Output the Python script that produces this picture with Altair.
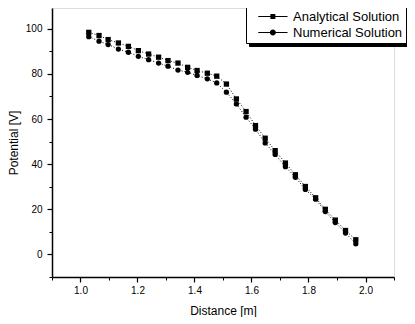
import altair as alt
import pandas as pd

# ---- data ----
distance = [1.029, 1.065, 1.097, 1.133, 1.168, 1.203, 1.239, 1.274, 1.307, 1.342,
            1.376, 1.409, 1.445, 1.478, 1.512, 1.547, 1.581, 1.614, 1.648, 1.683,
            1.719, 1.754, 1.789, 1.825, 1.859, 1.894, 1.930, 1.966]
analytical = [98.4, 97.0, 95.2, 93.7, 92.2, 90.3, 88.8, 87.4, 85.9, 84.8,
              82.9, 81.5, 80.3, 79.0, 75.5, 68.9, 63.3, 57.1, 51.5, 46.0,
              40.5, 35.3, 30.1, 25.1, 20.0, 15.2, 10.6, 6.5]
numerical = [96.5, 94.5, 93.0, 91.0, 89.6, 87.8, 86.3, 84.8, 83.4, 81.7,
             80.7, 79.3, 77.8, 76.0, 71.9, 66.7, 60.8, 55.5, 49.4, 44.3,
             38.9, 34.2, 28.8, 24.5, 19.0, 14.1, 9.5, 4.7]
series_names = ["Analytical Solution", "Numerical Solution"]
x_major = [1.0, 1.2, 1.4, 1.6, 1.8, 2.0]
x_minor = [0.9, 1.1, 1.3, 1.5, 1.7, 1.9, 2.1]
y_major = [0, 20, 40, 60, 80, 100]
y_minor = [-10, 10, 30, 50, 70, 90]

rows = []
for xv, yv in zip(distance, analytical):
    rows.append({"x": xv, "y": yv, "series": series_names[0]})
for xv, yv in zip(distance, numerical):
    rows.append({"x": xv, "y": yv, "series": series_names[1]})
df = pd.DataFrame(rows)

FONT = "Liberation Sans"
xscale = alt.Scale(domain=[0.9, 2.1], nice=False, zero=False)
yscale = alt.Scale(domain=[-10, 109.2], nice=False, zero=False)

base = alt.Chart(df)

x_main = alt.X("x:Q", scale=xscale, axis=alt.Axis(
    values=x_major, format=".1f", title="Distance [m]", orient="bottom",
    tickSize=5, labelPadding=3, titlePadding=10, grid=False,
    domainColor="black", domainWidth=1.5, tickColor="black", tickWidth=1.2,
    labelFont=FONT, labelFontSize=10, labelColor="black",
    titleFont=FONT, titleFontSize=12, titleFontWeight="normal", titleColor="black"))
y_main = alt.Y("y:Q", scale=yscale, axis=alt.Axis(
    values=y_major, format="d", title="Potential [V]", orient="left",
    tickSize=5, labelPadding=5, titlePadding=5, grid=False,
    domainColor="black", domainWidth=1.5, tickColor="black", tickWidth=1.2,
    labelFont=FONT, labelFontSize=10, labelColor="black",
    titleFont=FONT, titleFontSize=12, titleFontWeight="normal", titleColor="black"))

lines = base.mark_line(color="black", strokeWidth=1, strokeDash=[1, 2]).encode(
    x=x_main, y=y_main, detail="series:N")

points = base.mark_point(filled=True, color="black", opacity=1, size=28).encode(
    x=alt.X("x:Q", axis=None), y=alt.Y("y:Q", axis=None),
    shape=alt.Shape("series:N", scale=alt.Scale(domain=series_names, range=["square", "circle"]),
                    legend=None))

# legend symbols: a thin filled bar (the line) plus the marker
bar = "M0.1,-0.07L4.0,-0.07L4.0,0.07L0.1,0.07Z"
legend_paths = [
    bar + "M1.72,-0.33L2.38,-0.33L2.38,0.33L1.72,0.33Z",
    bar + "M1.65,0A0.4,0.4 0 1,1 2.45,0A0.4,0.4 0 1,1 1.65,0Z",
]
common_legend = dict(title=None, orient="none", padding=3, symbolSize=225,
                     labelFont=FONT, labelFontSize=13, labelOffset=27, rowPadding=0,
                     symbolFillColor="black", symbolOpacity=1)

legend_layer = base.transform_filter("false").mark_point(
    filled=True, opacity=1, color="black").encode(
    x=alt.X("x:Q", axis=None), y=alt.Y("y:Q", axis=None),
    shape=alt.Shape("series:N", scale=alt.Scale(domain=series_names, range=legend_paths),
                    legend=alt.Legend(legendX=194, legendY=-3, strokeColor="black",
                                      fillColor="white", labelColor="black", zindex=2,
                                      **common_legend)),
)

# drop shadow of the legend box: an identical all-black legend, offset by 3px
shadow_layer = base.transform_filter("false").transform_calculate(
    shadow="datum.series").mark_point(filled=True, opacity=1).encode(
    x=alt.X("x:Q", axis=None), y=alt.Y("y:Q", axis=None),
    color=alt.Color("shadow:N", scale=alt.Scale(domain=series_names, range=["black", "black"]),
                    legend=alt.Legend(legendX=197, legendY=0, strokeColor="black",
                                      fillColor="black", labelColor="black", zindex=1,
                                      symbolType=legend_paths[1], **common_legend)),
)

minor_axes = base.mark_point(opacity=0).encode(
    x=alt.X("x:Q", scale=xscale, axis=alt.Axis(values=x_minor, labels=False, title=None,
                                               orient="bottom", tickSize=3, domain=False,
                                               grid=False, tickColor="black", tickWidth=1)),
    y=alt.Y("y:Q", scale=yscale, axis=alt.Axis(values=y_minor, labels=False, title=None,
                                               orient="left", tickSize=3, domain=False,
                                               grid=False, tickColor="black", tickWidth=1)),
)

chart = alt.layer(lines, points, shadow_layer, legend_layer, minor_axes).resolve_scale(
    shape="independent"
).resolve_legend(shape="independent").resolve_axis(
    x="independent", y="independent").properties(
    width=342, height=269,
    autosize=alt.AutoSizeParams(type="none"),
    padding={"left": 44, "top": 0, "right": 13, "bottom": 40},
).configure_view(stroke=None).configure(background="white")

chart.save("out.html", embed_options={"renderer": "svg", "actions": False})
